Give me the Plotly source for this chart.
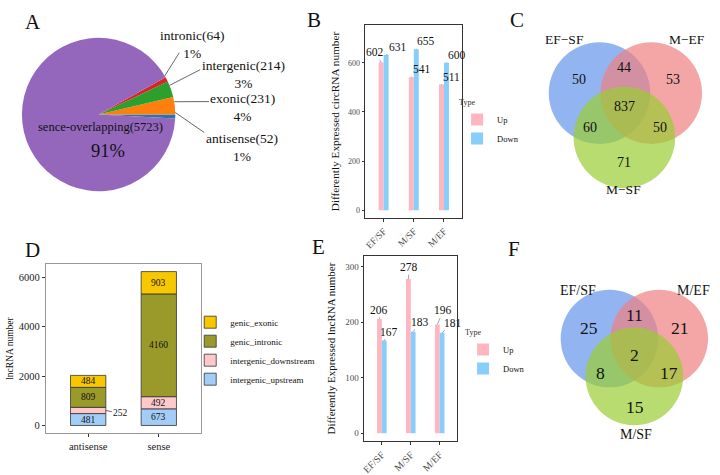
import numpy as np
import plotly.graph_objects as go

W, H = 720, 475
FONT = "Liberation Serif"

# ---------------- data ----------------
pie_labels = ["antisense", "exonic", "intergenic", "intronic", "sence-overlapping"]
pie_values = [52, 231, 214, 64, 5723]
pie_colors = ["#1f77b4", "#ff7f0e", "#2ca02c", "#d62728", "#9467bd"]

circ_groups = ["EF/SF", "M/SF", "M/EF"]
circ_up = [602, 541, 511]
circ_down = [631, 655, 600]

lnc_types = ["antisense", "sense"]
lnc_series = ["intergenic_upstream", "intergenic_downstream", "genic_intronic", "genic_exonic"]
lnc_upstream = [481, 673]
lnc_downstream = [252, 492]
lnc_intronic = [809, 4160]
lnc_exonic = [484, 903]
lnc_colors = ["#a3cdf7", "#ffc9cc", "#9a9a2a", "#f7c800"]

de_lnc_groups = ["EF/SF", "M/SF", "M/EF"]
de_lnc_up = [206, 278, 196]
de_lnc_down = [167, 183, 181]

type_names = ["Up", "Down"]
type_colors = ["#ffb6c1", "#87cefa"]

# region order: only1, only2, only3, 1&2, 1&3, 2&3, all
venn_c_sets = ["EF−SF", "M−EF", "M−SF"]
venn_c_counts = [50, 53, 71, 44, 60, 50, 837]
venn_f_sets = ["EF/SF", "M/EF", "M/SF"]
venn_f_counts = [25, 21, 15, 11, 8, 17, 2]
venn_colors = ["rgb(100,149,237)", "rgb(240,128,128)", "rgb(154,205,50)"]

# ---------------- layout constants (pixels) ----------------
def fx(x):
    return x / W


def fy(y):
    return 1 - y / H


PIE_C, PIE_R = (96, 115), 77
pie_lbl_pos = {"intronic": (190, 45), "intergenic": (241, 75),
               "exonic": (240, 108), "antisense": (240, 148)}
pie_line_end = {"intronic": (177, 53), "intergenic": (198, 70),
                "exonic": (207, 102), "antisense": (202, 133)}

venn_c_geo = dict(centers=[(599, 93.5), (651, 93.5), (624, 138)], r=51,
                  regions=[(578, 80), (673, 80), (624, 163), (624, 68), (589, 128), (660, 128), (624, 107)],
                  labels=[(564, 40), (687, 40), (623, 190)], nfont=14, lfont=13.5)
venn_f_geo = dict(centers=[(609, 340), (659, 340), (634, 378)], r=49,
                  regions=[(588, 329), (680, 329), (635, 409), (634, 316), (600, 375), (669, 375), (634, 356)],
                  labels=[(577, 292), (693, 292), (636, 436)], nfont=17.5, lfont=14)

panel_letters = [("A", 30, 22), ("B", 312, 20), ("C", 516, 20),
                 ("D", 30, 251), ("E", 317, 248), ("F", 513, 250)]

circ_up_off = [(-6, -10), (11, -8), (10, -8)]
circ_down_off = [(12, -8), (10, -8), (11, -8)]
lnc_up_off = [(0, -9), (1, -12), (6, -14)]
lnc_down_off = [(5, -9), (7, -10), (11, -10)]

BW = 0.165

fig = go.Figure()

# ---------------- A: pie ----------------
fig.add_trace(go.Pie(
    labels=pie_labels, values=pie_values, sort=False, direction="counterclockwise",
    rotation=90, marker=dict(colors=pie_colors, line=dict(width=0)),
    textinfo="none", showlegend=False, hoverinfo="label+value+percent",
    domain=dict(x=[fx(PIE_C[0] - PIE_R), fx(PIE_C[0] + PIE_R)],
                y=[fy(PIE_C[1] + PIE_R), fy(PIE_C[1] - PIE_R)])))

annotations = []
shapes = []

tot = sum(pie_values)
cum = 0.0
for lab, v in zip(pie_labels, pie_values):
    frac = v / tot
    mid = (cum + frac / 2) * 2 * np.pi
    cum += frac
    pct = round(frac * 100)
    if lab in pie_lbl_pos:
        sx = PIE_C[0] + PIE_R * np.cos(mid)
        sy = PIE_C[1] - PIE_R * np.sin(mid)
        ex, ey = pie_line_end[lab]
        shapes.append(dict(type="line", xref="x4", yref="y4", x0=sx, y0=sy, x1=ex, y1=ey,
                           line=dict(color="#555", width=0.9)))
        tx, ty = pie_lbl_pos[lab]
        annotations.append(dict(xref="x4", yref="y4", x=tx, y=ty, showarrow=False,
                                text=f"{lab}({v})<br>{pct}%", align="center",
                                font=dict(family=FONT, size=13.5, color="#111")))
    else:
        annotations.append(dict(xref="x4", yref="y4", x=98, y=128, showarrow=False,
                                text=f"{lab}({v})", font=dict(family=FONT, size=12.5, color="#111")))
        annotations.append(dict(xref="x4", yref="y4", x=105, y=152, showarrow=False,
                                text=f"{pct}%", font=dict(family=FONT, size=18.5, color="#111")))

# ---------------- B: circRNA DE bars ----------------
for name, vals, col, off in [("Up", circ_up, type_colors[0], -BW), ("Down", circ_down, type_colors[1], 0)]:
    fig.add_trace(go.Bar(x=circ_groups, y=vals, name=name, marker=dict(color=col, line=dict(width=0)),
                         width=BW, offset=off, xaxis="x", yaxis="y", legend="legend"))
for i in range(3):
    for vals, offs, sh in [(circ_up, circ_up_off, -BW / 2), (circ_down, circ_down_off, BW / 2)]:
        annotations.append(dict(xref="x", yref="y", x=i + sh, y=vals[i], text=str(vals[i]),
                                showarrow=True, arrowhead=0, arrowwidth=0.6, arrowcolor="#666",
                                ax=offs[i][0], ay=offs[i][1], standoff=0,
                                font=dict(family=FONT, size=11.5, color="#111")))

# ---------------- D: stacked lncRNA bars ----------------
lnc_stack = [lnc_upstream, lnc_downstream, lnc_intronic, lnc_exonic]
base = np.zeros(len(lnc_types))
for name, vals, col in zip(lnc_series, lnc_stack, lnc_colors):
    fig.add_trace(go.Bar(x=lnc_types, y=vals, base=base.copy(), name=name, width=0.5,
                         marker=dict(color=col, line=dict(color="#333", width=0.8)),
                         xaxis="x2", yaxis="y2", legend="legend3"))
    for i, v in enumerate(vals):
        midv = base[i] + v / 2
        if v >= 300:
            annotations.append(dict(xref="x2", yref="y2", x=i, y=midv, text=str(v), showarrow=False,
                                    font=dict(family=FONT, size=9.5, color="#111")))
        else:
            annotations.append(dict(xref="x2", yref="y2", x=i + 0.25, y=midv, text=str(v),
                                    showarrow=True, arrowhead=0, arrowwidth=0.8, arrowcolor="#444",
                                    ax=15, ay=3, standoff=0,
                                    font=dict(family=FONT, size=9.5, color="#111")))
    base = base + np.array(vals)

# ---------------- E: lncRNA DE bars ----------------
for name, vals, col, off in [("Up", de_lnc_up, type_colors[0], -BW), ("Down", de_lnc_down, type_colors[1], 0)]:
    fig.add_trace(go.Bar(x=de_lnc_groups, y=vals, name=name, marker=dict(color=col, line=dict(width=0)),
                         width=BW, offset=off, xaxis="x3", yaxis="y3", legend="legend2"))
for i in range(3):
    for vals, offs, sh in [(de_lnc_up, lnc_up_off, -BW / 2), (de_lnc_down, lnc_down_off, BW / 2)]:
        annotations.append(dict(xref="x3", yref="y3", x=i + sh, y=vals[i], text=str(vals[i]),
                                showarrow=True, arrowhead=0, arrowwidth=0.6, arrowcolor="#666",
                                ax=offs[i][0], ay=offs[i][1], standoff=0,
                                font=dict(family=FONT, size=11.5, color="#111")))

# ---------------- C & F: Venn diagrams ----------------
for sets, counts, geo in [(venn_c_sets, venn_c_counts, venn_c_geo), (venn_f_sets, venn_f_counts, venn_f_geo)]:
    r = geo["r"]
    for (cx, cy), col in zip(geo["centers"], venn_colors):
        shapes.append(dict(type="circle", xref="x4", yref="y4", x0=cx - r, x1=cx + r, y0=cy - r, y1=cy + r,
                           fillcolor=col, opacity=0.7, line=dict(width=0), layer="above"))
    for (x, y), c in zip(geo["regions"], counts):
        annotations.append(dict(xref="x4", yref="y4", x=x, y=y, text=str(c), showarrow=False,
                                font=dict(family=FONT, size=geo["nfont"], color="#111")))
    for (x, y), s in zip(geo["labels"], sets):
        annotations.append(dict(xref="x4", yref="y4", x=x, y=y, text=s, showarrow=False,
                                font=dict(family=FONT, size=geo["lfont"], color="#111")))

for t, x, y in panel_letters:
    annotations.append(dict(xref="x4", yref="y4", x=x, y=y, text=t, showarrow=False,
                            font=dict(family=FONT, size=21, color="#111")))

# ---------------- axes ----------------
def bar_axis(**kw):
    d = dict(showline=True, mirror=True, linecolor="#333", linewidth=0.8, ticks="outside", ticklen=3,
             tickcolor="#333", tickwidth=0.8, showgrid=False, zeroline=False,
             tickfont=dict(family=FONT, size=8.5, color="#4d4d4d"), fixedrange=True)
    d.update(kw)
    return d


fig.update_layout(
    width=W, height=H, autosize=False, margin=dict(l=0, r=0, t=0, b=0),
    paper_bgcolor="white", plot_bgcolor="rgba(0,0,0,0)", barmode="overlay",
    font=dict(family=FONT, color="#111"),
    xaxis=bar_axis(domain=[fx(364), fx(461)], anchor="y", type="category", range=[-0.6, 2.6],
                   tickangle=-45, tickfont=dict(family=FONT, size=9.5, color="#4d4d4d")),
    yaxis=bar_axis(domain=[fy(219), fy(25)], anchor="x", range=[-32, 754], tickvals=[0, 200, 400, 600],
                   tickfont=dict(family=FONT, size=8, color="#4d4d4d"),
                   title=dict(text="Differently Expressed circRNA number", standoff=6,
                              font=dict(family=FONT, size=11.3, color="#111"))),
    xaxis2=bar_axis(domain=[fx(43), fx(199)], anchor="y2", type="category", range=[-0.6, 1.6],
                    linecolor="#999", tickfont=dict(family=FONT, size=10.5, color="#222")),
    yaxis2=bar_axis(domain=[fy(435), fy(265)], anchor="x2", range=[-312, 6540],
                    tickvals=[0, 2000, 4000, 6000], linecolor="#999",
                    tickfont=dict(family=FONT, size=10.5, color="#222"),
                    title=dict(text="lncRNA number", standoff=3,
                               font=dict(family=FONT, size=9.5, color="#111"))),
    xaxis3=bar_axis(domain=[fx(363), fx(456)], anchor="y3", type="category", range=[-0.6, 2.6],
                    tickangle=-45, tickfont=dict(family=FONT, size=10, color="#4d4d4d")),
    yaxis3=bar_axis(domain=[fy(443), fy(257)], anchor="x3", range=[-14.4, 319.6],
                    tickvals=[0, 100, 200, 300],
                    tickfont=dict(family=FONT, size=9, color="#4d4d4d"),
                    title=dict(text="Differently Expressed lncRNA number", standoff=7,
                               font=dict(family=FONT, size=11, color="#111"))),
    xaxis4=dict(domain=[0, 1], anchor="y4", range=[0, W], visible=False, fixedrange=True),
    yaxis4=dict(domain=[0, 1], anchor="x4", range=[H, 0], visible=False, fixedrange=True),
    legend=dict(x=fx(456), y=fy(95), xanchor="left", yanchor="top", bgcolor="rgba(0,0,0,0)",
                title=dict(text="Type", font=dict(family=FONT, size=8, color="#333")),
                font=dict(family=FONT, size=8.5, color="#111"), tracegroupgap=0),
    legend2=dict(x=fx(462), y=fy(326), xanchor="left", yanchor="top", bgcolor="rgba(0,0,0,0)",
                 title=dict(text="Type", font=dict(family=FONT, size=8, color="#333")),
                 font=dict(family=FONT, size=8.5, color="#111"), tracegroupgap=0),
    legend3=dict(x=fx(188), y=fy(309), xanchor="left", yanchor="top", bgcolor="rgba(0,0,0,0)",
                 traceorder="reversed", font=dict(family=FONT, size=9, color="#111"), tracegroupgap=0),
    annotations=annotations, shapes=shapes,
)

fig.write_html("out.html")
